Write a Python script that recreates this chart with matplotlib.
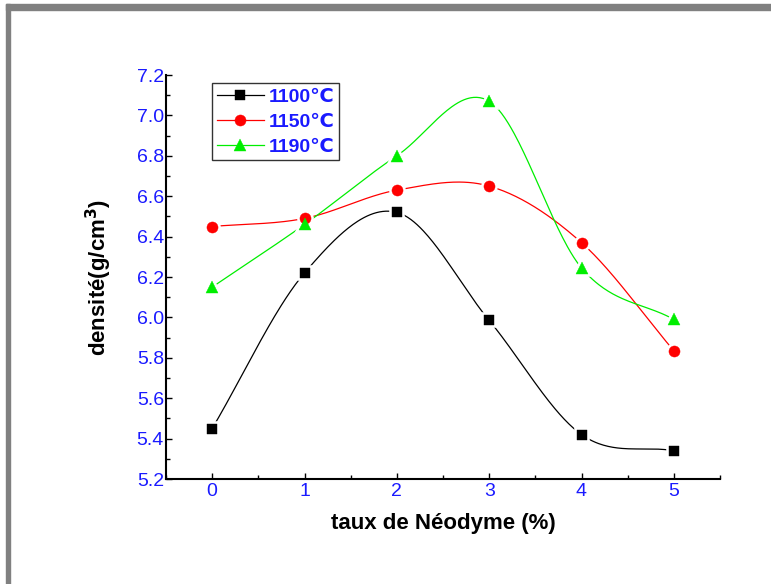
import numpy as np
import matplotlib.pyplot as plt
from matplotlib.patches import Rectangle
from matplotlib.ticker import MultipleLocator

# Donnees
taux = [0, 1, 2, 3, 4, 5]
d_1100 = [5.45, 6.22, 6.52, 5.985, 5.42, 5.34]
d_1150 = [6.45, 6.49, 6.63, 6.65, 6.37, 5.835]
d_1190 = [6.15, 6.46, 6.80, 7.07, 6.245, 5.99]
labels = ['1100\u2103', '1150\u2103', '1190\u2103']

plt.rcParams['font.family'] = ['Liberation Sans', 'DejaVu Sans']
BLEU = '#1a1aff'


def lisse(x, y, n=60):
    # courbe lissee (hermite cubique, pentes moyennes) passant par les points
    x = np.asarray(x, float)
    y = np.asarray(y, float)
    sec = np.diff(y) / np.diff(x)
    m = np.empty_like(y)
    m[0], m[-1] = sec[0], sec[-1]
    m[1:-1] = (sec[:-1] + sec[1:]) / 2
    xs, ys = [], []
    for i in range(len(x) - 1):
        h = x[i + 1] - x[i]
        t = np.linspace(0, 1, n)
        h00 = 2 * t**3 - 3 * t**2 + 1
        h10 = t**3 - 2 * t**2 + t
        h01 = -2 * t**3 + 3 * t**2
        h11 = t**3 - t**2
        xs.append(x[i] + t * h)
        ys.append(h00 * y[i] + h10 * h * m[i] + h01 * y[i + 1] + h11 * h * m[i + 1])
    return np.concatenate(xs), np.concatenate(ys)


fig = plt.figure(figsize=(7.71, 5.84), dpi=100)
ax = fig.add_axes([166 / 771, 1 - 479 / 584, (720 - 166) / 771, (479 - 75) / 584])

# cadre gris
fig.patches.append(Rectangle((6 / 771, 0), 4 / 771, 1 - 4 / 584, transform=fig.transFigure,
                             color='#808080', zorder=0))
fig.patches.append(Rectangle((6 / 771, 1 - 10 / 584), 1, 6 / 584, transform=fig.transFigure,
                             color='#808080', zorder=0))

series = [(d_1100, 'black', 's', 7), (d_1150, 'red', 'o', 8), (d_1190, '#00ee00', '^', 9)]
handles = []
for (d, col, mk, ms), lab in zip(series, labels):
    xs, ys = lisse(taux, d)
    ax.plot(xs, ys, color=col, lw=0.9, zorder=2)
    ax.plot(taux, d, ls='none', marker=mk, ms=ms, color=col, mec='white', mew=4, zorder=3)
    ax.plot(taux, d, ls='none', marker=mk, ms=ms, color=col, mec=col, mew=0.3, zorder=4)
    h, = ax.plot([], [], color=col, lw=0.9, marker=mk, ms=ms, mec=col, mew=0.3)
    handles.append(h)

ax.set_xlim(-0.5, 5.5)
ax.set_ylim(5.2, 7.2)
ax.xaxis.set_major_locator(MultipleLocator(1))
ax.xaxis.set_minor_locator(MultipleLocator(0.5))
ax.yaxis.set_major_locator(MultipleLocator(0.2))
ax.yaxis.set_minor_locator(MultipleLocator(0.1))
ax.yaxis.set_major_formatter(plt.FormatStrFormatter('%.1f'))
for s in ['top', 'right']:
    ax.spines[s].set_visible(False)
for s in ['left', 'bottom']:
    ax.spines[s].set_linewidth(1.5)
ax.tick_params(which='both', direction='in', labelcolor=BLEU, labelsize=14, width=1)
ax.tick_params(which='major', length=4)
ax.tick_params(which='minor', length=3)
ax.tick_params(axis='x', pad=3)
ax.tick_params(axis='y', pad=1.5)

ax.set_xlabel('taux de Néodyme (%)', fontsize=16, fontweight='bold', labelpad=9)
ax.set_ylabel('densité(g/cm$^\\mathbf{3}$)', fontsize=16, fontweight='bold', labelpad=16)

leg = ax.legend(handles, labels, loc='upper left', bbox_to_anchor=(0.083, 0.98),
                borderaxespad=0, frameon=True, fancybox=False, edgecolor='black',
                handlelength=2.4, handletextpad=0.25, borderpad=0.25, labelspacing=0.38,
                prop={'size': 14, 'weight': 'bold'})
leg.get_frame().set_linewidth(1)
for t in leg.get_texts():
    t.set_color(BLEU)

fig.savefig('out.png', dpi=100)
